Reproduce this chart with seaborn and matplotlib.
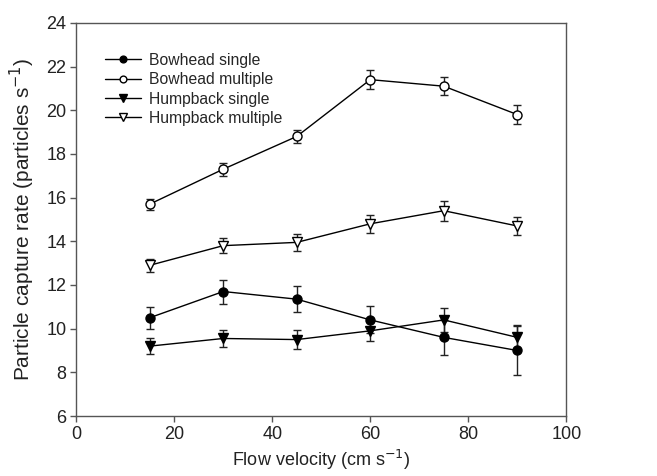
import numpy as np
import pandas as pd
import matplotlib
matplotlib.use("Agg")
import matplotlib.pyplot as plt
import seaborn as sns

velocity = [15, 30, 45, 60, 75, 90]

bowhead_single = [10.5, 11.7, 11.35, 10.4, 9.6, 9.0]
bowhead_single_err = [0.5, 0.55, 0.6, 0.62, 0.8, 1.1]
bowhead_multiple = [15.7, 17.3, 18.8, 21.4, 21.1, 19.8]
bowhead_multiple_err = [0.25, 0.3, 0.3, 0.45, 0.4, 0.45]
humpback_single = [9.2, 9.55, 9.5, 9.9, 10.4, 9.6]
humpback_single_err = [0.35, 0.4, 0.45, 0.45, 0.55, 0.55]
humpback_multiple = [12.9, 13.8, 13.95, 14.8, 15.4, 14.7]
humpback_multiple_err = [0.3, 0.35, 0.4, 0.4, 0.45, 0.4]

series = [
    ("Bowhead single", bowhead_single, bowhead_single_err, "o", "black"),
    ("Bowhead multiple", bowhead_multiple, bowhead_multiple_err, "o", "white"),
    ("Humpback single", humpback_single, humpback_single_err, "v", "black"),
    ("Humpback multiple", humpback_multiple, humpback_multiple_err, "v", "white"),
]

sns.set_style("ticks")
plt.rcParams['font.family'] = ['Liberation Sans', 'DejaVu Sans']

fig, ax = plt.subplots(figsize=(6.57, 4.76), dpi=100)
fig.subplots_adjust(left=0.116, right=0.862, top=0.952, bottom=0.126)

for name, vals, errs, mk, fc in series:
    df = pd.DataFrame({"velocity": velocity, "rate": vals})
    ax.errorbar(velocity, vals, yerr=errs, fmt="none", ecolor="#222222",
                elinewidth=1, capsize=3, capthick=1, zorder=2)
    sns.lineplot(data=df, x="velocity", y="rate", ax=ax, color="black",
                 linewidth=1, marker=mk, markersize=6.5 if mk == "o" else 7,
                 markerfacecolor=fc, markeredgecolor="black",
                 markeredgewidth=1, label=name, zorder=3)

ax.set_xlim(0, 100)
ax.set_ylim(6, 24)
ax.set_xticks(range(0, 101, 20))
ax.set_yticks(range(6, 25, 2))
ax.tick_params(direction="out", length=4, width=1, labelsize=13,
               colors="#555555", labelcolor="#222222", pad=3)
for s in ax.spines.values():
    s.set_linewidth(1)
    s.set_color("#555555")

ax.set_xlabel("Flow velocity (cm s$^{-1}$)", fontsize=13, color="#222222", labelpad=4)
ax.set_ylabel("Particle capture rate (particles s$^{-1}$)", fontsize=15,
              color="#222222", labelpad=7)

ax.legend(loc="upper left", bbox_to_anchor=(0.045, 0.94), frameon=False,
          fontsize=11.3, handlelength=2.3, handletextpad=0.55,
          labelspacing=0.28, markerscale=0.75, borderaxespad=0.0)

fig.savefig("out.png", dpi=100)
